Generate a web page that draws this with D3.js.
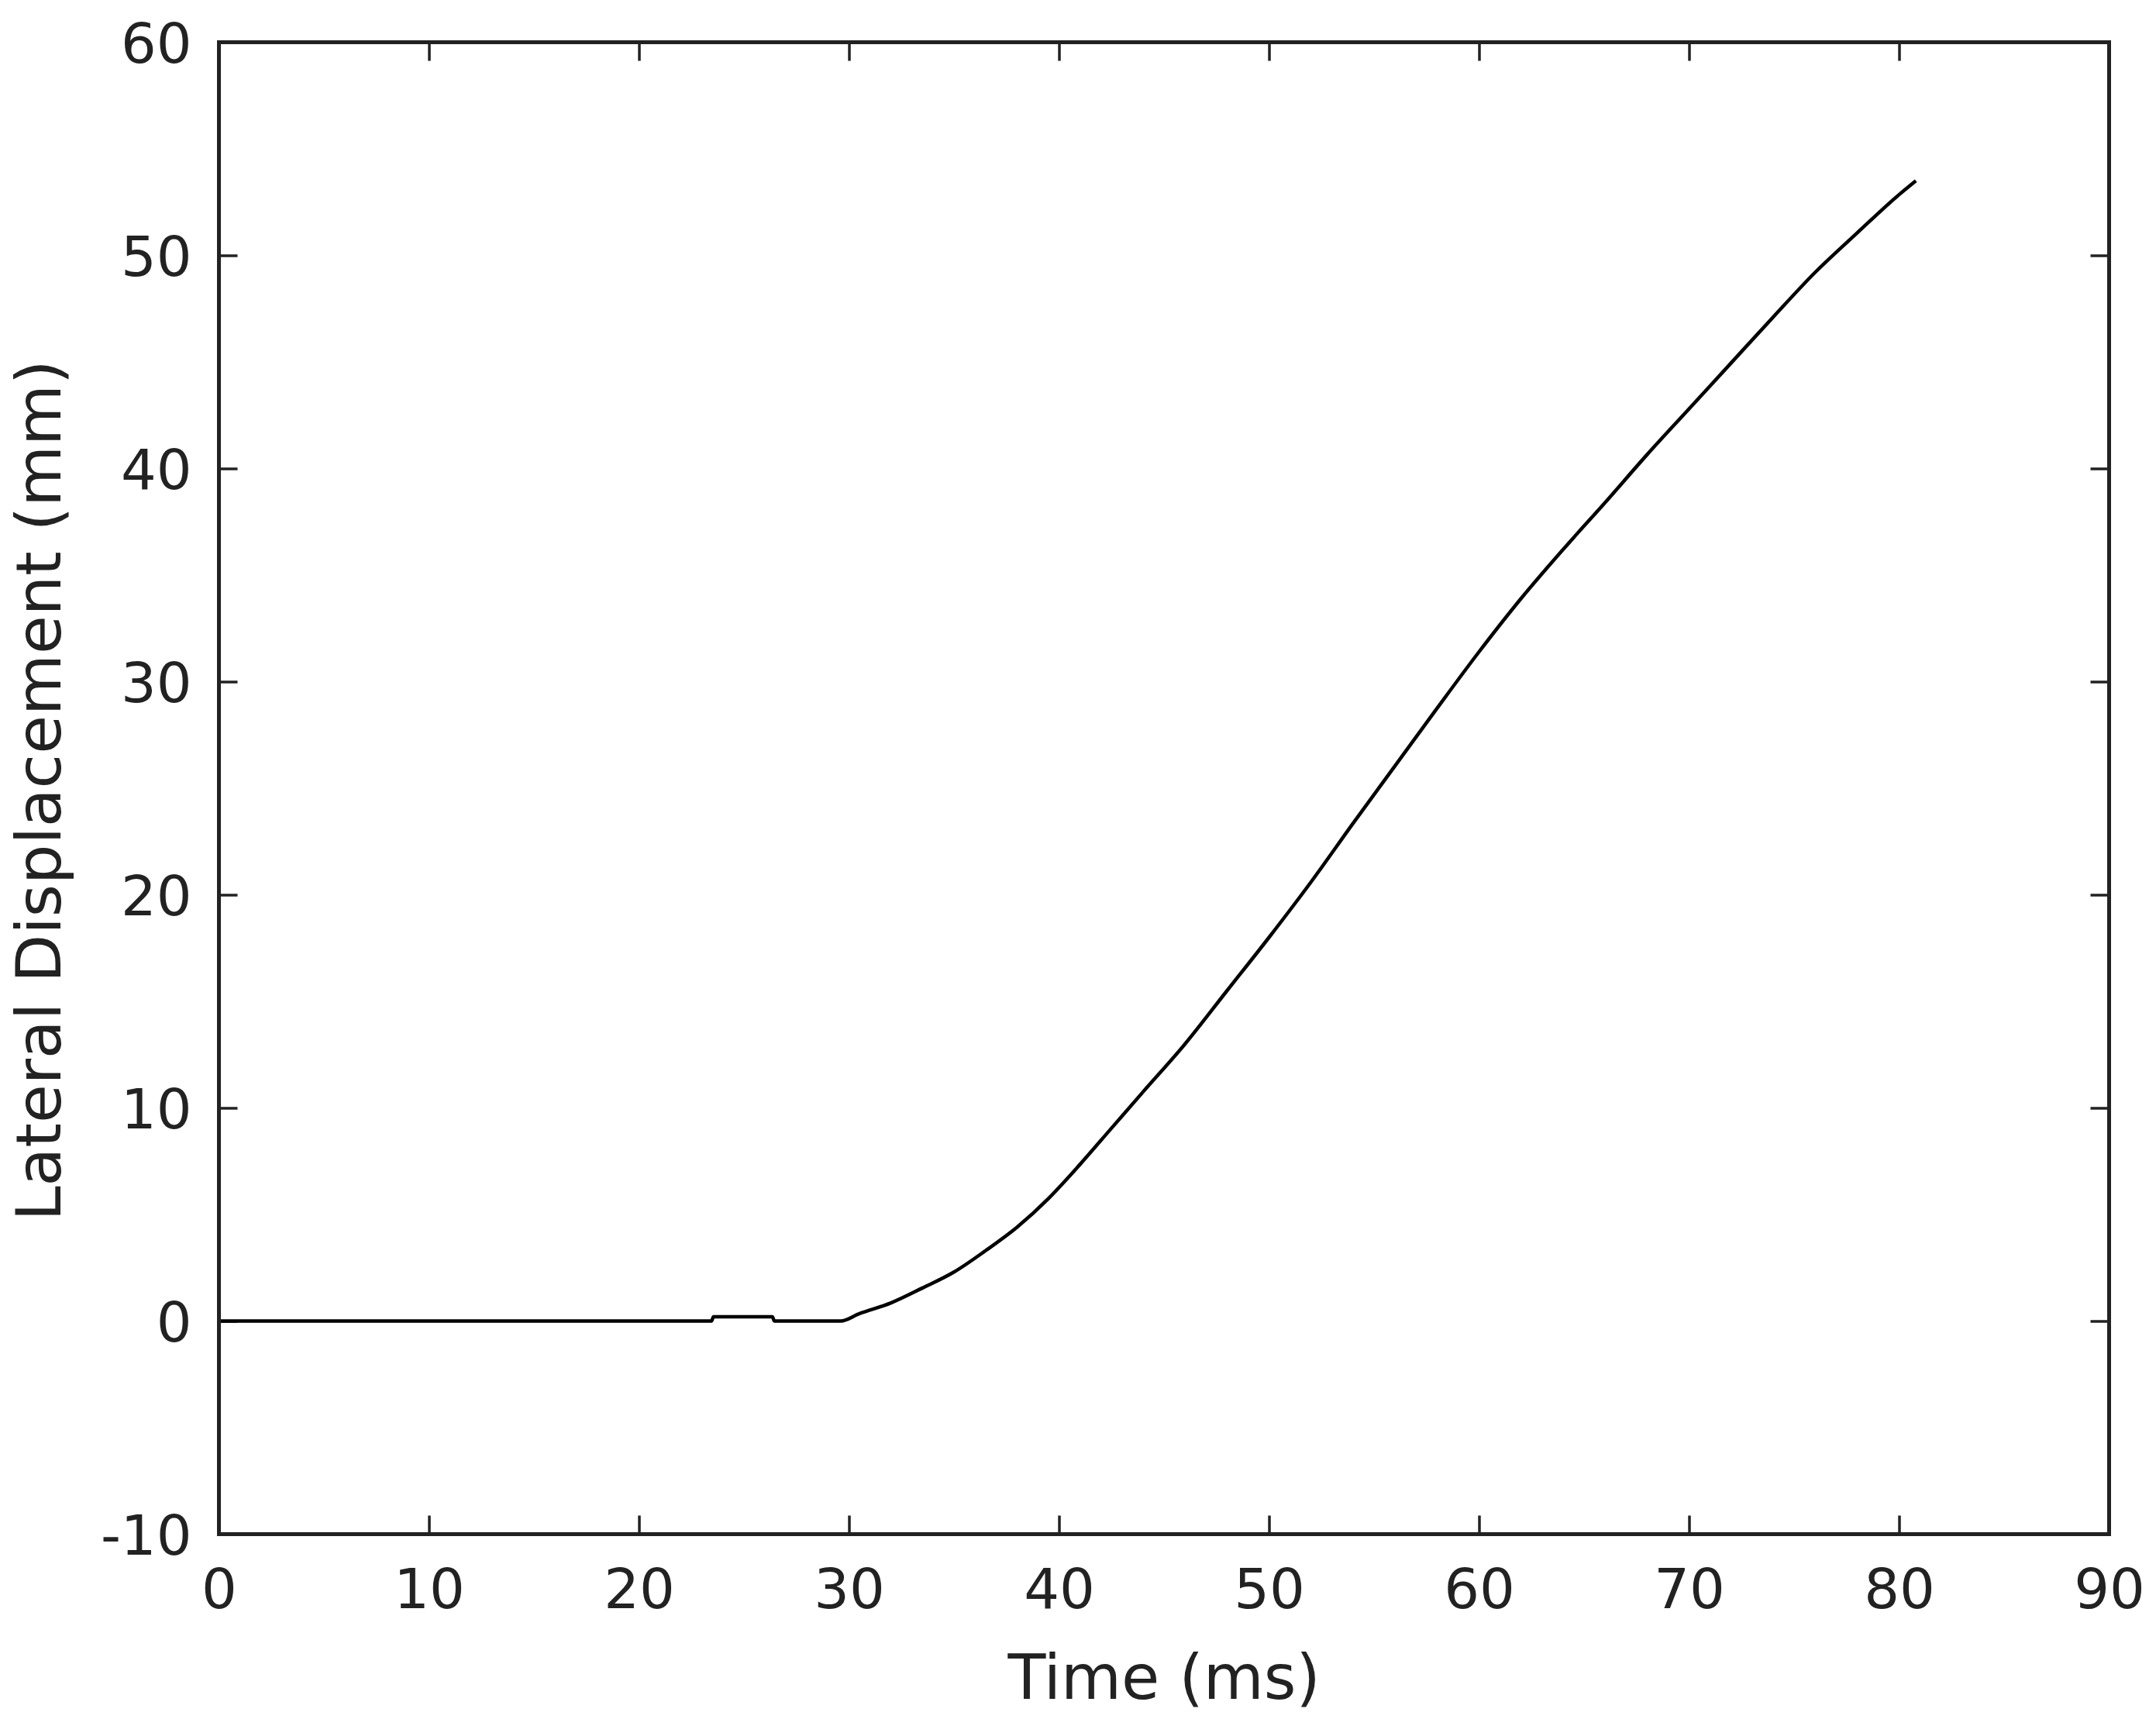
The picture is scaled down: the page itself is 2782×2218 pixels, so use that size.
<!DOCTYPE html>
<html>
<head>
<meta charset="utf-8">
<script src="https://cdn.jsdelivr.net/npm/d3@7"></script>
<style>
  html, body { margin: 0; padding: 0; background: #ffffff; }
  svg { display: block; }
  text { font-family: "DejaVu Sans", sans-serif; fill: #222222; }
</style>
</head>
<body>
<svg id="chart" width="2782" height="2218"></svg>
<script>
// ---- data ----
const timeMs = [0, 23.45, 23.55, 26.35, 26.45, 29.6, 30.5, 32, 33.5, 35, 36.5, 38, 39.5, 41, 42.5, 44, 46, 48, 50, 52, 54, 56, 58, 60, 62, 64, 66, 68, 70, 72, 74, 76, 78, 80, 80.8];
const displacementMm = [0, 0, 0.2, 0.2, 0, 0, 0.35, 0.85, 1.55, 2.3, 3.3, 4.4, 5.75, 7.35, 9.05, 10.75, 13.0, 15.5, 18.0, 20.6, 23.35, 26.05, 28.75, 31.4, 33.9, 36.2, 38.4, 40.65, 42.8, 44.95, 47.1, 49.2, 51.05, 52.85, 53.5];
const xTicks = [0, 10, 20, 30, 40, 50, 60, 70, 80, 90];
const yTicks = [-10, 0, 10, 20, 30, 40, 50, 60];
const xLabel = "Time (ms)";
const yLabel = "Lateral Displacement (mm)";

// ---- layout ----
const L = 282.5, R = 2721.5, T = 54.5, B = 1979.5;
const svg = d3.select("#chart");

const x = d3.scaleLinear().domain([0, 90]).range([L, R]);
const y = d3.scaleLinear().domain([-10, 60]).range([B, T]);

const tickLen = 24;
const axisColor = "#222222";
const fmt = d => String(d);

function styleAxis(g) {
  g.select(".domain").remove();
  g.selectAll(".tick line").attr("stroke", axisColor).attr("stroke-width", 3.5);
  g.selectAll(".tick text").attr("fill", axisColor).style("font-size", "72px").style("font-family", "DejaVu Sans");
}

// bottom axis (labels)
svg.append("g").attr("transform", `translate(0,${B})`)
  .call(d3.axisBottom(x).tickValues(xTicks).tickFormat(fmt).tickSizeInner(-tickLen).tickSizeOuter(0).tickPadding(0))
  .call(styleAxis)
  .call(g => g.selectAll(".tick text").attr("y", 95).attr("dy", 0));

// top axis (ticks only)
svg.append("g").attr("transform", `translate(0,${T})`)
  .call(d3.axisTop(x).tickValues(xTicks).tickSizeInner(-tickLen).tickSizeOuter(0).tickFormat(""))
  .call(styleAxis);

// left axis (labels)
svg.append("g").attr("transform", `translate(${L},0)`)
  .call(d3.axisLeft(y).tickValues(yTicks).tickFormat(fmt).tickSizeInner(-tickLen).tickSizeOuter(0).tickPadding(0))
  .call(styleAxis)
  .call(g => g.selectAll(".tick text").attr("x", -35).attr("dy", "0.36em"));

// right axis (ticks only)
svg.append("g").attr("transform", `translate(${R},0)`)
  .call(d3.axisRight(y).tickValues(yTicks).tickSizeInner(-tickLen).tickSizeOuter(0).tickFormat(""))
  .call(styleAxis);

// data line
const line = d3.line()
  .x((d, i) => x(timeMs[i]))
  .y(d => y(d))
  .curve(d3.curveMonotoneX);
svg.append("path")
  .datum(displacementMm)
  .attr("fill", "none")
  .attr("stroke", "#000000")
  .attr("stroke-width", 4.5)
  .attr("stroke-linejoin", "round")
  .attr("d", line);

// frame
svg.append("rect")
  .attr("x", L).attr("y", T)
  .attr("width", R - L).attr("height", B - T)
  .attr("fill", "none")
  .attr("stroke", axisColor)
  .attr("stroke-width", 5);

// axis titles
svg.append("text")
  .attr("x", (L + R) / 2).attr("y", 2192)
  .attr("text-anchor", "middle")
  .style("font-size", "80px")
  .text(xLabel);

svg.append("text")
  .attr("transform", `translate(78,${(T + B) / 2 + 3}) rotate(-90)`)
  .attr("text-anchor", "middle")
  .style("font-size", "81px")
  .text(yLabel);
</script>
</body>
</html>
